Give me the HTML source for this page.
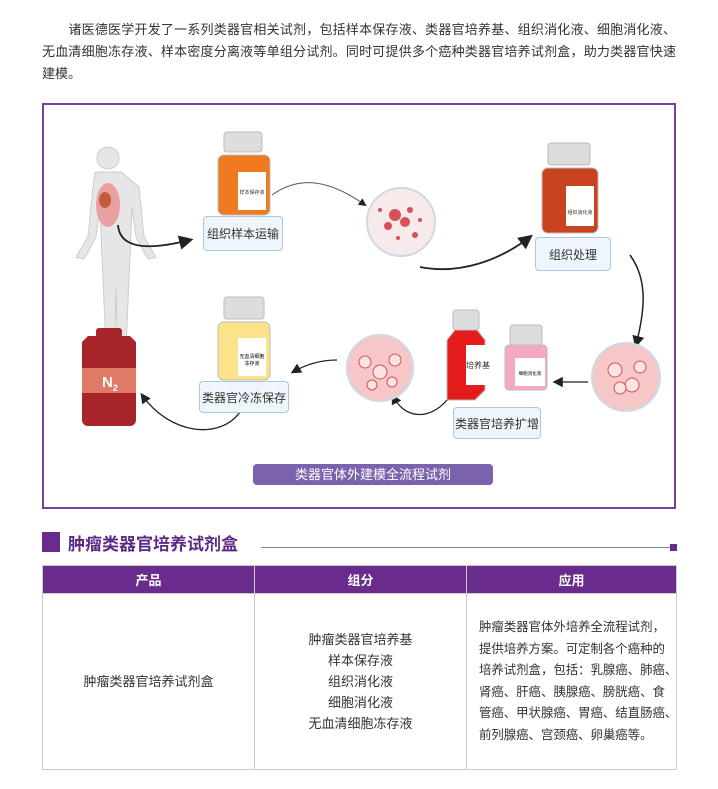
<!DOCTYPE html>
<html><head><meta charset="utf-8"><style>
body{margin:0;width:718px;height:789px;background:#fff;font-family:"Liberation Sans","Noto Sans CJK SC",sans-serif;color:#333;position:relative;overflow:hidden}
.intro{position:absolute;left:42px;width:634px;top:19px;font-size:13px;line-height:22px}
.intro div{text-align:justify;text-align-last:justify;white-space:nowrap;overflow:visible}
.intro div.l{text-align-last:left}
.frame{position:absolute;left:42px;top:103px;width:630px;height:402px;border:2px solid #7b3f98}
.box{position:absolute;background:#eef5fb;border:1.5px solid #a8c8e6;border-radius:4px;font-size:12px;color:#333;display:flex;align-items:center;justify-content:center}
.pill{position:absolute;left:253px;top:464px;width:240px;height:21px;background:#7a62ad;border-radius:4px;color:#fff;font-size:13px;text-align:center;line-height:21px}
.sq{position:absolute;left:42px;top:532px;width:18px;height:20px;background:#6a2c8c}
.ttl{position:absolute;left:68px;top:530px;font-size:17px;font-weight:bold;color:#5b2a86}
.hl{position:absolute;left:261px;top:547px;width:410px;height:1px;background:#888}
.hsq{position:absolute;left:670px;top:544px;width:7px;height:7px;background:#6a2c8c}
table{position:absolute;left:42px;top:565px;width:635px;height:205px;border-collapse:collapse;font-size:13px;table-layout:fixed}
th{background:#6a2c8c;color:#fff;height:27px;font-weight:bold;border:1px solid #ccc;font-size:13px;padding:0}
td{border:1px solid #ccc;text-align:center;line-height:21px;vertical-align:middle;padding:0}
</style></head><body>
<div class="intro">
<div>　　诸医德医学开发了一系列类器官相关试剂，包括样本保存液、类器官培养基、组织消化液、细胞消化液、</div>
<div>无血清细胞冻存液、样本密度分离液等单组分试剂。同时可提供多个癌种类器官培养试剂盒，助力类器官快速</div>
<div class="l">建模。</div>
</div>
<div class="frame"></div>
<svg style="position:absolute;left:0;top:0" width="718" height="789">
<defs><marker id="a" markerWidth="8" markerHeight="8" refX="6" refY="4" orient="auto"><path d="M0,0 L8,4 L0,8 z" fill="#222"/></marker></defs>
<g fill="#e6e6e6" stroke="#ccc">
<circle cx="108" cy="158" r="11"/>
<path d="M95,172 h26 l18,15 l5,50 l12,20 l-8,2 l-12,-22 l-4,-30 l-2,50 l-4,90 l2,22 h-10 l-2,-80 l-2,80 h-10 l2,-22 l-4,-90 l-2,-50 l-4,30 l-12,22 l-8,-2 l12,-20 l5,-50 z"/>
</g>
<ellipse cx="108" cy="205" rx="12" ry="22" fill="#e9a0a0"/>
<ellipse cx="105" cy="200" rx="6" ry="8" fill="#c45b3a"/>
<path d="M118,225 C120,250 150,250 190,240" fill="none" stroke="#222" stroke-width="1.8" marker-end="url(#a)"/>
<g><rect x="224" y="132" width="38" height="20" rx="3" fill="#ddd" stroke="#bbb"/><rect x="218" y="155" width="52" height="60" rx="6" fill="#f07a1f" stroke="#bbb"/><rect x="238" y="172" width="28" height="38" fill="#fff"/><text x="252" y="194" font-size="5" text-anchor="middle" fill="#333">样本保存液</text></g>
<path d="M272,195 C300,175 330,180 365,205" fill="none" stroke="#555" stroke-width="1" marker-end="url(#a)"/>
<circle cx="401" cy="222" r="34" fill="#f6eaea" stroke="#cfd9e4" stroke-width="2"/>
<g fill="#d9505a"><circle cx="395" cy="215" r="6"/><circle cx="405" cy="222" r="5"/><circle cx="388" cy="226" r="4"/><circle cx="410" cy="210" r="3"/><circle cx="380" cy="210" r="2"/><circle cx="415" cy="235" r="3"/><circle cx="398" cy="238" r="2"/><circle cx="420" cy="220" r="2"/></g>
<path d="M420,267 C460,275 500,260 530,237" fill="none" stroke="#222" stroke-width="1.8" marker-end="url(#a)"/>
<g><rect x="548" y="143" width="42" height="22" rx="3" fill="#ddd" stroke="#bbb"/><rect x="542" y="168" width="56" height="65" rx="6" fill="#c8431e" stroke="#bbb"/><rect x="566" y="186" width="28" height="40" fill="#fff"/><text x="580" y="214" font-size="5" text-anchor="middle" fill="#333">组织消化液</text></g>
<path d="M630,255 C648,280 645,310 636,345" fill="none" stroke="#222" stroke-width="1.5" marker-end="url(#a)"/>
<circle cx="626" cy="377" r="34" fill="#f5c7c7" stroke="#cfd9e4" stroke-width="2"/>
<g fill="#fbe3e3" stroke="#d9505a"><circle cx="615" cy="370" r="7"/><circle cx="632" cy="385" r="7"/><circle cx="640" cy="367" r="6"/><circle cx="620" cy="388" r="6"/></g>
<path d="M588,382 L555,382" stroke="#222" stroke-width="1.3" marker-end="url(#a)"/>
<g><rect x="453" y="310" width="26" height="20" rx="3" fill="#ddd" stroke="#bbb"/><path d="M447,340 l8,-10 h22 l8,10 v50 l-10,10 h-28 z" fill="#e31b1b" stroke="#bbb"/><rect x="466" y="345" width="24" height="40" fill="#fff"/><text x="478" y="368" font-size="8" text-anchor="middle" fill="#333">培养基</text>
<rect x="510" y="325" width="32" height="20" rx="3" fill="#ddd" stroke="#bbb"/><rect x="505" y="345" width="42" height="45" rx="4" fill="#f5a8c4" stroke="#bbb"/><rect x="515" y="358" width="30" height="28" fill="#fff"/><text x="530" y="375" font-size="4.5" text-anchor="middle">细胞消化液</text></g>
<path d="M447,400 C430,420 405,420 393,396" fill="none" stroke="#222" stroke-width="1.3" marker-end="url(#a)"/>
<circle cx="380" cy="368" r="33" fill="#f5c7c7" stroke="#cfd9e4" stroke-width="2"/>
<g fill="#fbe3e3" stroke="#d9505a"><circle cx="365" cy="362" r="6"/><circle cx="380" cy="372" r="7"/><circle cx="395" cy="360" r="6"/><circle cx="372" cy="385" r="5"/><circle cx="392" cy="382" r="5"/></g>
<path d="M337,360 C320,360 305,365 293,372" fill="none" stroke="#222" stroke-width="1.3" marker-end="url(#a)"/>
<g><rect x="224" y="297" width="40" height="22" rx="3" fill="#ddd" stroke="#bbb"/><rect x="218" y="322" width="52" height="58" rx="6" fill="#fbe38a" stroke="#bbb"/><rect x="238" y="338" width="28" height="38" fill="#fff"/><text x="252" y="358" font-size="5" text-anchor="middle">无血清细胞</text><text x="252" y="365" font-size="5" text-anchor="middle">冻存液</text></g>
<path d="M240,412 C220,440 170,435 142,395" fill="none" stroke="#222" stroke-width="1.3" marker-end="url(#a)"/>
<g fill="#a8262a"><rect x="96" y="328" width="26" height="10" rx="3"/><path d="M82,342 l6,-6 h42 l6,6 v78 a6,6 0 0 1 -6,6 h-42 a6,6 0 0 1 -6,-6 z"/></g>
<rect x="82" y="368" width="54" height="25" fill="#e07a66"/>
<text x="102" y="387" font-size="15" font-weight="bold" fill="#fff" font-family="Liberation Sans">N<tspan font-size="9" dy="4">2</tspan></text>
</svg>
<div class="box" style="left:203px;top:216px;width:78px;height:33px">组织样本运输</div>
<div class="box" style="left:535px;top:237px;width:74px;height:32px">组织处理</div>
<div class="box" style="left:453px;top:407px;width:86px;height:30px">类器官培养扩增</div>
<div class="box" style="left:199px;top:381px;width:88px;height:30px">类器官冷冻保存</div>
<div class="pill">类器官体外建模全流程试剂</div>
<div class="sq"></div><div class="ttl">肿瘤类器官培养试剂盒</div><div class="hl"></div><div class="hsq"></div>
<table>
<colgroup><col style="width:212px"><col style="width:212px"><col></colgroup>
<tr><th>产品</th><th>组分</th><th>应用</th></tr>
<tr><td>肿瘤类器官培养试剂盒</td><td>肿瘤类器官培养基<br>样本保存液<br>组织消化液<br>细胞消化液<br>无血清细胞冻存液</td><td style="text-align:left;padding:0 0 0 12px;line-height:21.5px;font-size:12.4px;white-space:nowrap">肿瘤类器官体外培养全流程试剂，<br>提供培养方案。可定制各个癌种的<br>培养试剂盒，包括：乳腺癌、肺癌、<br>肾癌、肝癌、胰腺癌、膀胱癌、食<br>管癌、甲状腺癌、胃癌、结直肠癌、<br>前列腺癌、宫颈癌、卵巢癌等。</td></tr>
</table>
</body></html>
